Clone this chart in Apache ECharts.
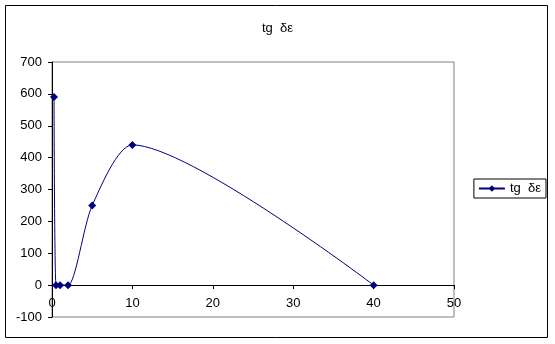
<!DOCTYPE html>
<html><head><meta charset="utf-8">
<script src="https://cdn.jsdelivr.net/npm/echarts@6/dist/echarts.min.js"></script>
<style>html,body{margin:0;padding:0;background:#fff}#c{width:555px;height:344px}</style>
</head><body><div id="c"></div>
<script>
const seriesName = 'tg  δε';
const xValues = [0.25, 0.5, 1, 2, 5, 10, 40];
const yValues = [590, 0, 0, 0, 250, 440, 0];
const xTicks = {min: 0, max: 50, interval: 10};
const yTicks = {min: -100, max: 700, interval: 100};

const gridTop = 62, gridBottom = 27, chartH = 344;
const plotH = chartH - gridTop - gridBottom;
// shift the x axis up so it sits at y = 0
const xAxisOffset = -plotH * (0 - yTicks.min) / (yTicks.max - yTicks.min);

const chart = echarts.init(document.getElementById('c'), null, {renderer: 'canvas'});
const font = 'Liberation Sans, Arial, sans-serif';
chart.setOption({
  animation: false,
  backgroundColor: '#fff',
  graphic: [{type: 'rect', shape: {x: 5.5, y: 5.5, width: 542, height: 332}, style: {fill: 'none', stroke: '#000', lineWidth: 1}, silent: true}],
  title: {text: seriesName, left: 'center', top: 17, textStyle: {fontFamily: font, fontSize: 13, fontWeight: 'normal', color: '#000'}},
  legend: {
    right: 9, top: 179, orient: 'vertical',
    borderColor: '#000', borderWidth: 1, padding: [3, 5, 3, 4],
    itemWidth: 26, itemHeight: 8, itemGap: 2,
    textStyle: {fontFamily: font, fontSize: 13, color: '#000'},
    data: [seriesName]
  },
  grid: {left: 52, right: 101, top: gridTop, bottom: gridBottom, show: true, borderColor: '#808080', borderWidth: 1, containLabel: false},
  xAxis: {
    type: 'value', min: xTicks.min, max: xTicks.max, interval: xTicks.interval,
    offset: xAxisOffset,
    axisLine: {show: true, onZero: false, lineStyle: {color: '#000'}},
    axisTick: {show: true, inside: false, length: 4, lineStyle: {color: '#000'}},
    axisLabel: {fontFamily: font, fontSize: 13, color: '#000', margin: 12},
    splitLine: {show: false}
  },
  yAxis: {
    type: 'value', min: yTicks.min, max: yTicks.max, interval: yTicks.interval,
    axisLine: {show: true, lineStyle: {color: '#000'}},
    axisTick: {show: true, length: 4, lineStyle: {color: '#000'}},
    axisLabel: {fontFamily: font, fontSize: 13, color: '#000', margin: 10},
    splitLine: {show: false}
  },
  series: [{
    name: seriesName, type: 'line', smooth: 0.25,
    data: xValues.map((x, i) => [x, yValues[i]]),
    symbol: 'diamond', symbolSize: 8,
    lineStyle: {color: '#000080', width: 1},
    itemStyle: {color: '#000080'}
  }]
});
</script></body></html>
